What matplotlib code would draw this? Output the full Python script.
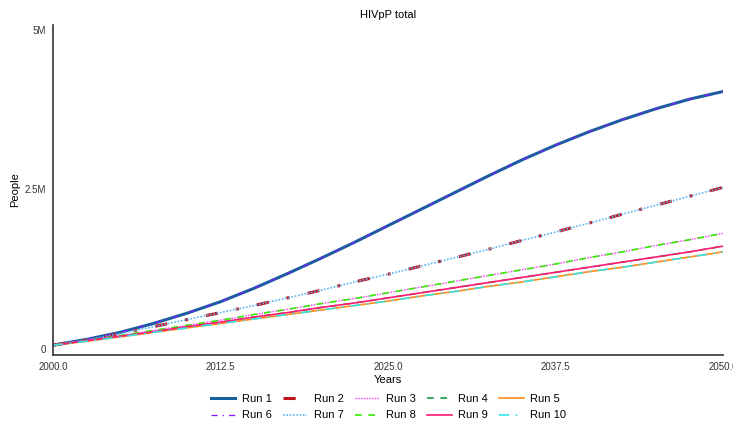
import matplotlib
matplotlib.use("Agg")
import matplotlib.pyplot as plt
from matplotlib.ticker import FuncFormatter

plt.rcParams["font.family"] = ["Liberation Sans", "DejaVu Sans"]

# values, every 2.5 years (millions of people)
years = [2000.0, 2002.5, 2005.0, 2007.5, 2010.0, 2012.5, 2015.0, 2017.5, 2020.0, 2022.5,
         2025.0, 2027.5, 2030.0, 2032.5, 2035.0, 2037.5, 2040.0, 2042.5, 2045.0, 2047.5, 2050.0]
high = [0.06, 0.15, 0.26, 0.40, 0.56, 0.74, 0.95, 1.18, 1.42, 1.67,
        1.93, 2.19, 2.45, 2.71, 2.96, 3.19, 3.40, 3.59, 3.76, 3.91, 4.03]
mid_high = [0.06, 0.14, 0.24, 0.35, 0.46, 0.57, 0.68, 0.80, 0.92, 1.05,
            1.17, 1.30, 1.43, 1.56, 1.70, 1.83, 1.97, 2.11, 2.25, 2.39, 2.53]
mid = [0.06, 0.13, 0.21, 0.29, 0.37, 0.45, 0.54, 0.62, 0.71, 0.79,
       0.88, 0.97, 1.06, 1.15, 1.24, 1.33, 1.43, 1.52, 1.62, 1.71, 1.81]
mid_low = [0.06, 0.13, 0.20, 0.27, 0.35, 0.42, 0.50, 0.57, 0.65, 0.72,
           0.80, 0.88, 0.96, 1.04, 1.12, 1.20, 1.28, 1.36, 1.44, 1.52, 1.61]
low = [0.06, 0.12, 0.19, 0.26, 0.33, 0.40, 0.47, 0.54, 0.61, 0.68,
       0.75, 0.83, 0.90, 0.98, 1.05, 1.13, 1.21, 1.28, 1.36, 1.44, 1.52]

run_names = ["Run 1", "Run 2", "Run 3", "Run 4", "Run 5",
             "Run 6", "Run 7", "Run 8", "Run 9", "Run 10"]
run_values = [high, mid_high, mid, mid_low, low,
              high, mid_high, mid, mid_low, low]

styles = [
    dict(color="#17609a", ls="-", lw=2.2),
    dict(color="#c0141c", ls=(0, (4, 6, 1, 6)), lw=2.2),
    dict(color="#ff33ff", ls=(0, (1, 1)), lw=1.0),
    dict(color="#1a9641", ls=(0, (4, 4)), lw=1.2),
    dict(color="#ff8c1a", ls="-", lw=1.2),
    dict(color="#7f1aff", ls=(0, (5, 4, 1, 4)), lw=0.9),
    dict(color="#5ab4f0", ls=(0, (1, 1)), lw=1.2),
    dict(color="#33ee00", ls=(0, (4, 4)), lw=1.2),
    dict(color="#ff1a75", ls="-", lw=1.2),
    dict(color="#33e6e6", ls=(0, (6, 4, 1, 4)), lw=1.2),
]

fig = plt.figure(figsize=(7.33, 4.25), dpi=100)
ax = fig.add_axes([0.0723, 0.1647, 0.9140, 0.7763])

lines = []
for name, vals, st in zip(run_names, run_values, styles):
    l, = ax.plot(years, [v * 1e6 for v in vals], label=name, **st)
    lines.append(l)

ax.set_xlim(2000, 2050)
ax.set_ylim(-0.094e6, 5.07e6)
ax.set_xticks([2000, 2012.5, 2025, 2037.5, 2050])
ax.set_xticklabels(["2000.0", "2012.5", "2025.0", "2037.5", "2050.0"])
ax.set_yticks([0, 2.5e6, 5e6])
ax.yaxis.set_major_formatter(FuncFormatter(lambda v, p: "0" if v == 0 else f"{v/1e6:g}M"))
ax.tick_params(length=0, labelsize=7, colors="#333333", pad=5)
for s in ("top", "right"):
    ax.spines[s].set_visible(False)
for s in ("left", "bottom"):
    ax.spines[s].set_color("#333333")
    ax.spines[s].set_linewidth(1.2)

ax.set_title("HIVpP total", fontsize=8, pad=5)
ax.set_xlabel("Years", fontsize=8, labelpad=2)
ax.set_ylabel("People", fontsize=8, labelpad=3)

# row 1 = Run 1..5, row 2 = Run 6..10
order = [0, 5, 1, 6, 2, 7, 3, 8, 4, 9]
fig.legend([lines[i] for i in order], [run_names[i] for i in order],
           loc="upper center", bbox_to_anchor=(0.53, 0.097), ncol=5, frameon=False,
           fontsize=8, handlelength=2.2, columnspacing=1.0, handletextpad=0.6,
           labelspacing=0.6)

fig.savefig("out.png", dpi=100)
